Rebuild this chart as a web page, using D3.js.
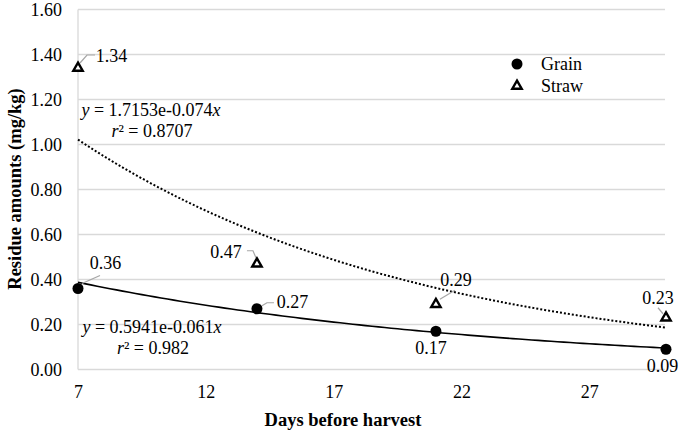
<!DOCTYPE html>
<html><head><meta charset="utf-8">
<script src="https://cdn.jsdelivr.net/npm/d3@7"></script>
<style>
body{margin:0;background:#fff;}
svg text{font-family:"Liberation Serif","Times New Roman",serif;fill:#000;}
</style></head>
<body><svg id="c" width="685" height="431" font-family="Liberation Serif"></svg>
<script>
const days = [7, 14, 21, 30];
const grain = [0.36, 0.27, 0.17, 0.09];
const straw = [1.34, 0.47, 0.29, 0.23];
const xTicks = [7, 12, 17, 22, 27];
const yTicks = [0, 0.2, 0.4, 0.6, 0.8, 1.0, 1.2, 1.4, 1.6];
const grainFit = [0.5941, -0.061];
const strawFit = [1.7153, -0.074];
const grainEq = ["0.5941e-0.061", "0.982"];
const strawEq = ["1.7153e-0.074", "0.8707"];

// label layout (pixel offsets)
const grainLab = [{dx:27.5,dy:-25.5,leader:[[4,-5],[22,-13]]},{dx:35.5,dy:-7,leader:[[5,-3],[10,-6],[17,-6]]},{dx:-5,dy:16},{dx:-3.5,dy:16}];
const strawLab = [{dx:33.5,dy:-12,leader:[[2,-5],[9,-13],[17,-13]]},{dx:-31,dy:-12,leader:[[-10,-13],[-4,-13],[-1,-6]]},{dx:20,dy:-25,leader:[[4,-5],[19,-14]]},{dx:-8,dy:-20,leader:[[-8,-10],[-3,-4]]}];

const svg = d3.select("#c");
const x = d3.scaleLinear().domain([7, 30]).range([78, 666]);
const y = d3.scaleLinear().domain([0, 1.6]).range([369.5, 9.5]);
const fs = 18;
const FF = "Liberation Serif";

// gridlines
svg.append("g").selectAll("line").data(yTicks).join("line")
  .attr("x1", 78).attr("x2", 665).attr("y1", d=>y(d)).attr("y2", d=>y(d))
  .attr("stroke", "#d9d9d9").attr("stroke-width", 1.3);
svg.append("line").attr("x1",78).attr("x2",78).attr("y1",y(1.6)).attr("y2",y(0))
  .attr("stroke","#d9d9d9").attr("stroke-width",1.3);

// axes
const yAxis = d3.axisLeft(y).tickValues(yTicks).tickFormat(d3.format(".2f")).tickSize(0).tickPadding(16);
const gy = svg.append("g").attr("transform","translate(78,0)").call(yAxis).attr("font-family",FF);
gy.select(".domain").remove();
gy.selectAll("text").attr("font-size", fs);

const xAxis = d3.axisBottom(x).tickValues(xTicks).tickFormat(d3.format("d")).tickSize(0).tickPadding(16);
const gx = svg.append("g").attr("transform","translate(0,369.5)").call(xAxis).attr("font-family",FF);
gx.select(".domain").remove();
gx.selectAll("text").attr("font-size", fs);

// axis titles
svg.append("text").attr("x", 343).attr("y", 426).attr("text-anchor","middle")
  .attr("font-size", 18.5).attr("font-weight","bold").text("Days before harvest");
svg.append("text").attr("transform","translate(21,189) rotate(-90)").attr("text-anchor","middle")
  .attr("font-size", 18.5).attr("font-weight","bold").text("Residue amounts (mg/kg)");

// trend lines
function fitPts(f){
  const pts=[]; for(let t=7;t<=30.0001;t+=0.25) pts.push([t, f[0]*Math.exp(f[1]*t)]); return pts;
}
const line = d3.line().x(d=>x(d[0])).y(d=>y(d[1]));
svg.append("path").attr("d", line(fitPts(strawFit))).attr("fill","none")
  .attr("stroke","#000").attr("stroke-width",2).attr("stroke-dasharray","2,2");
svg.append("path").attr("d", line(fitPts(grainFit))).attr("fill","none")
  .attr("stroke","#000").attr("stroke-width",1.6);

// leaders
function leaders(vals, labs){
  vals.forEach((v,i)=>{
    const L = labs[i].leader; if(!L) return;
    const px=x(days[i]), py=y(v);
    svg.append("path").attr("d", d3.line()(L.map(p=>[px+p[0],py+p[1]])))
      .attr("fill","none").attr("stroke","#a6a6a6").attr("stroke-width",1.2);
  });
}
leaders(grain, grainLab); leaders(straw, strawLab);

// markers
svg.append("g").selectAll("circle").data(grain).join("circle")
  .attr("cx",(d,i)=>x(days[i])).attr("cy",d=>y(d)).attr("r",5.5).attr("fill","#000");
const tri = d3.symbol().type(d3.symbolTriangle).size(38);
svg.append("g").selectAll("path").data(straw).join("path")
  .attr("d", tri).attr("transform",(d,i)=>`translate(${x(days[i])},${y(d)})`)
  .attr("fill","#fff").attr("stroke","#000").attr("stroke-width",2.4);

// data labels
function labels(vals, labs){
  svg.append("g").selectAll("text").data(vals).join("text")
    .attr("x",(d,i)=>x(days[i])+labs[i].dx).attr("y",(d,i)=>y(d)+labs[i].dy)
    .attr("dy","0.35em").attr("text-anchor","middle").attr("font-size",fs)
    .text(d=>d3.format(".2f")(d));
}
labels(grain, grainLab); labels(straw, strawLab);

// equations
function eq(cx, by, e){
  const t1 = svg.append("text").attr("x",cx).attr("y",by).attr("text-anchor","middle").attr("font-size",fs);
  t1.append("tspan").attr("font-style","italic").text("y");
  t1.append("tspan").text(" = " + e[0]);
  t1.append("tspan").attr("font-style","italic").text("x");
  const t2 = svg.append("text").attr("x",cx+1).attr("y",by+21).attr("text-anchor","middle").attr("font-size",fs);
  t2.append("tspan").attr("font-style","italic").text("r");
  t2.append("tspan").text("² = " + e[1]);
}
eq(151, 116, strawEq);
eq(152, 333, grainEq);

// legend
svg.append("circle").attr("cx",517).attr("cy",64).attr("r",5.5).attr("fill","#000");
svg.append("path").attr("d",tri).attr("transform","translate(517,86)")
  .attr("fill","#fff").attr("stroke","#000").attr("stroke-width",2.4);
svg.append("text").attr("x",541).attr("y",64).attr("dy","0.35em").attr("font-size",fs).text("Grain");
svg.append("text").attr("x",541).attr("y",86).attr("dy","0.35em").attr("font-size",fs).text("Straw");
</script></body></html>
